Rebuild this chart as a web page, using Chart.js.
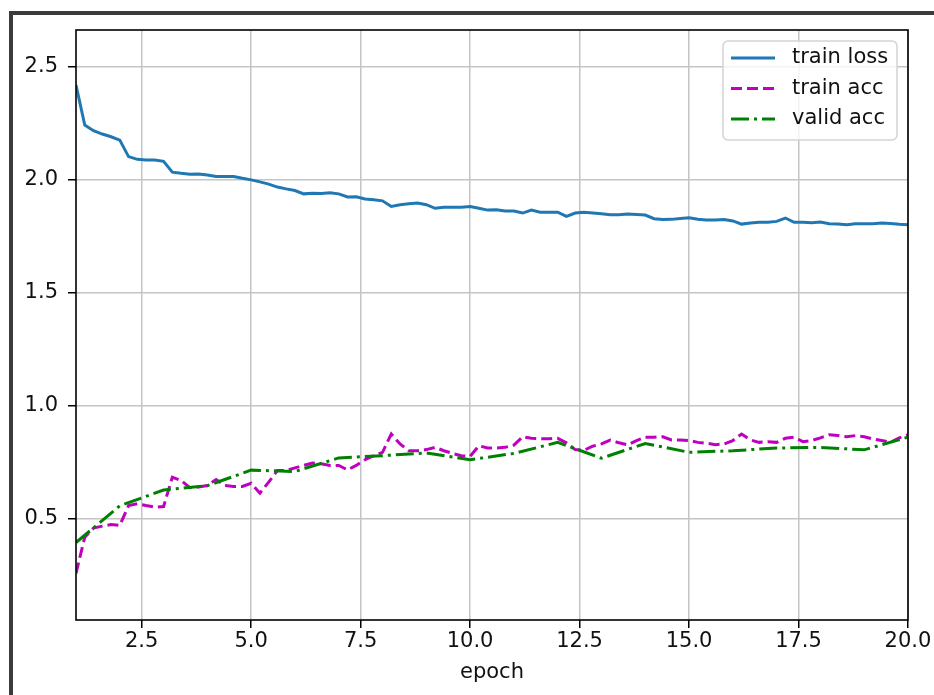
<!DOCTYPE html>
<html>
<head>
<meta charset="utf-8">
<script src="https://cdn.jsdelivr.net/npm/chart.js@4.4.1/dist/chart.umd.min.js"></script>
<style>
    html, body { margin: 0; padding: 0; background: #fff; }
    #wrap { position: relative; width: 934px; height: 695px; }
    #frame {
        position: absolute; left: 9px; top: 11px; right: 0; bottom: 0;
        border-top: 4px solid #3b3b3b; border-left: 4px solid #3b3b3b;
        pointer-events: none;
    }
    canvas { position: absolute; left: 0; top: 0; }
</style>
</head>
<body>
<div id="wrap">
    <canvas id="lossChart" width="934" height="695"></canvas>
    <div id="frame"></div>
</div>
<script>
// x positions of the per-batch records (5 per epoch)
const trainEpochs = [
    1.0, 1.2, 1.4, 1.6, 1.8, 2.0, 2.2, 2.4, 2.6, 2.8,
    3.0, 3.2, 3.4, 3.6, 3.8, 4.0, 4.2, 4.4, 4.6, 4.8,
    5.0, 5.2, 5.4, 5.6, 5.8, 6.0, 6.2, 6.4, 6.6, 6.8,
    7.0, 7.2, 7.4, 7.6, 7.8, 8.0, 8.2, 8.4, 8.6, 8.8,
    9.0, 9.2, 9.4, 9.6, 9.8, 10.0, 10.2, 10.4, 10.6, 10.8,
    11.0, 11.2, 11.4, 11.6, 11.8, 12.0, 12.2, 12.4, 12.6, 12.8,
    13.0, 13.2, 13.4, 13.6, 13.8, 14.0, 14.2, 14.4, 14.6, 14.8,
    15.0, 15.2, 15.4, 15.6, 15.8, 16.0, 16.2, 16.4, 16.6, 16.8,
    17.0, 17.2, 17.4, 17.6, 17.8, 18.0, 18.2, 18.4, 18.6, 18.8,
    19.0, 19.2, 19.4, 19.6, 19.8, 20.0
];
const trainLoss = [
    2.420, 2.243, 2.218, 2.203, 2.191, 2.176, 2.103, 2.091, 2.088, 2.088,
    2.082, 2.034, 2.029, 2.025, 2.026, 2.022, 2.015, 2.015, 2.015, 2.007,
    2.000, 1.991, 1.981, 1.968, 1.960, 1.953, 1.938, 1.941, 1.940, 1.943,
    1.938, 1.924, 1.925, 1.915, 1.912, 1.907, 1.882, 1.890, 1.894, 1.897,
    1.890, 1.874, 1.879, 1.879, 1.879, 1.882, 1.874, 1.866, 1.868, 1.862,
    1.862, 1.853, 1.866, 1.857, 1.857, 1.857, 1.838, 1.853, 1.856, 1.853,
    1.850, 1.846, 1.846, 1.849, 1.847, 1.844, 1.828, 1.824, 1.825, 1.829,
    1.832, 1.826, 1.822, 1.822, 1.824, 1.818, 1.804, 1.809, 1.812, 1.812,
    1.816, 1.831, 1.812, 1.812, 1.810, 1.813, 1.806, 1.804, 1.801, 1.806,
    1.806, 1.806, 1.809, 1.807, 1.803, 1.801
];
const trainAcc = [
    0.257, 0.417, 0.457, 0.466, 0.473, 0.469, 0.557, 0.565, 0.557, 0.550,
    0.553, 0.683, 0.668, 0.636, 0.639, 0.646, 0.672, 0.646, 0.642, 0.642,
    0.656, 0.612, 0.661, 0.712, 0.712, 0.724, 0.735, 0.745, 0.742, 0.735,
    0.735, 0.715, 0.735, 0.760, 0.778, 0.793, 0.874, 0.830, 0.800, 0.800,
    0.805, 0.815, 0.800, 0.788, 0.778, 0.775, 0.822, 0.812, 0.812, 0.815,
    0.825, 0.862, 0.855, 0.853, 0.853, 0.855, 0.835, 0.805, 0.802, 0.820,
    0.830, 0.847, 0.835, 0.826, 0.845, 0.860, 0.860, 0.862, 0.848, 0.848,
    0.845, 0.837, 0.833, 0.827, 0.830, 0.845, 0.874, 0.848, 0.837, 0.840,
    0.837, 0.855, 0.860, 0.840, 0.845, 0.857, 0.871, 0.867, 0.862, 0.867,
    0.862, 0.852, 0.845, 0.837, 0.857, 0.871
];
// validation is measured once per epoch
const validEpochs = [1, 2, 3, 4, 5, 6, 7, 8, 9, 10, 11, 12, 13, 14, 15, 16, 17, 18, 19, 20];
const validAcc = [
    0.393, 0.556, 0.626, 0.645, 0.714, 0.708, 0.768, 0.778, 0.790, 0.760,
    0.788, 0.837, 0.767, 0.832, 0.793, 0.800, 0.812, 0.815, 0.804, 0.860
];
const xTicks = [2.5, 5.0, 7.5, 10.0, 12.5, 15.0, 17.5, 20.0];
const yTicks = [0.5, 1.0, 1.5, 2.0, 2.5];

const FONT = 'DejaVu Sans';

function toPoints(xs, ys) {
    return xs.map((x, i) => ({ x: x, y: ys[i] }));
}

// black box around the plot area (matplotlib spines)
const framePlugin = {
    id: 'frame',
    afterDraw(chart) {
        const { ctx, chartArea: a } = chart;
        ctx.save();
        ctx.strokeStyle = '#000';
        ctx.lineWidth = 1.6;
        ctx.strokeRect(a.left, a.top, a.right - a.left, a.bottom - a.top);
        ctx.restore();
    }
};

// legend box in the upper right corner
const boxLegend = {
    id: 'boxLegend',
    afterDraw(chart) {
        const ctx = chart.ctx;
        const x = 723, y = 41, w = 174, h = 99, r = 5;
        ctx.save();
        ctx.fillStyle = 'rgba(255,255,255,0.8)';
        ctx.strokeStyle = '#d3d3d3';
        ctx.lineWidth = 1.5;
        ctx.beginPath();
        ctx.roundRect(x, y, w, h, r);
        ctx.fill();
        ctx.stroke();

        ctx.font = '21px ' + FONT;
        ctx.textBaseline = 'middle';
        ctx.textAlign = 'left';
        chart.data.datasets.forEach((ds, i) => {
            const rowY = 58 + i * 30.5;
            ctx.strokeStyle = ds.borderColor;
            ctx.lineWidth = ds.borderWidth;
            ctx.setLineDash(ds.borderDash || []);
            ctx.beginPath();
            ctx.moveTo(731, rowY);
            ctx.lineTo(775, rowY);
            ctx.stroke();
            ctx.setLineDash([]);
            ctx.fillStyle = '#111';
            ctx.fillText(ds.label, 792, rowY);
        });
        ctx.restore();
    }
};

const ctx = document.getElementById('lossChart').getContext('2d');
const lossChart = new Chart(ctx, {
    type: 'line',
    data: {
        datasets: [
            {
                label: 'train loss',
                data: toPoints(trainEpochs, trainLoss),
                borderColor: '#1f77b4',
                borderWidth: 3,
                order: 2,
            },
            {
                label: 'train acc',
                data: toPoints(trainEpochs, trainAcc),
                borderColor: '#bf00bf',
                borderWidth: 3,
                borderDash: [11, 5],
                order: 1,
            },
            {
                label: 'valid acc',
                data: toPoints(validEpochs, validAcc),
                borderColor: '#008000',
                borderWidth: 3,
                borderDash: [18, 5, 3, 5],
                order: 0,
            }
        ]
    },
    options: {
        responsive: false,
        animation: false,
        layout: { padding: { top: 30, right: 26, bottom: 0, left: 0 } },
        elements: {
            point: { radius: 0 },
            line: { tension: 0, fill: false, borderCapStyle: 'butt' }
        },
        plugins: {
            legend: { display: false },
            tooltip: { enabled: false }
        },
        scales: {
            x: {
                type: 'linear',
                min: 1,
                max: 20,
                afterBuildTicks: scale => { scale.ticks = xTicks.map(v => ({ value: v })); },
                afterFit: scale => { scale.height = 75; },
                ticks: {
                    autoSkip: false,
                    maxRotation: 0,
                    padding: 1,
                    color: '#111',
                    font: { family: FONT, size: 21 },
                    callback: v => v.toFixed(1)
                },
                grid: {
                    color: '#c4c4c4',
                    lineWidth: 1.5,
                    tickLength: 8,
                    tickColor: '#000',
                    tickWidth: 1.5
                },
                border: { display: false },
                title: {
                    display: true,
                    text: 'epoch',
                    color: '#111',
                    font: { family: FONT, size: 21 },
                    padding: { top: 0, bottom: 10 }
                }
            },
            y: {
                type: 'linear',
                min: 0.05,
                max: 2.664,
                afterBuildTicks: scale => { scale.ticks = yTicks.map(v => ({ value: v })); },
                afterFit: scale => { scale.width = 76; },
                ticks: {
                    autoSkip: false,
                    padding: 10,
                    color: '#111',
                    font: { family: FONT, size: 21 },
                    callback: v => v.toFixed(1)
                },
                grid: {
                    color: '#c4c4c4',
                    lineWidth: 1.5,
                    tickLength: 8,
                    tickColor: '#000',
                    tickWidth: 1.5
                },
                border: { display: false }
            }
        }
    },
    plugins: [framePlugin, boxLegend]
});
</script>
</body>
</html>
